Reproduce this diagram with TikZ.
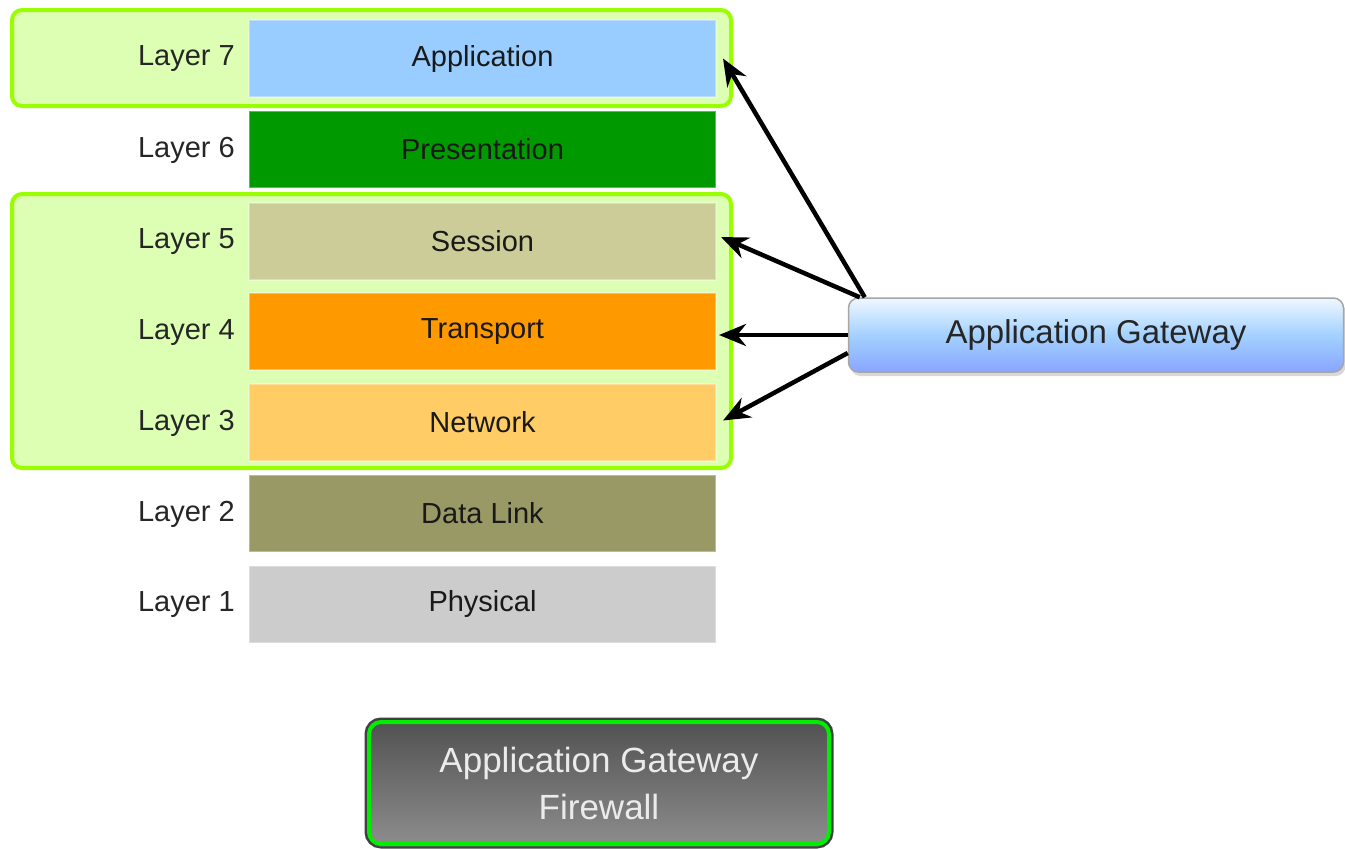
\documentclass[tikz,border=0pt]{standalone}
\usepackage{fontspec}
\setmainfont{Liberation Sans}
\usetikzlibrary{arrows.meta,shadows,calc}
\definecolor{grpline}{HTML}{99FF00}
\definecolor{grpfill}{HTML}{DDFFB3}
\definecolor{appc}{HTML}{99CCFF}
\definecolor{presc}{HTML}{009900}
\definecolor{sessc}{HTML}{CCCC99}
\definecolor{transc}{HTML}{FF9900}
\definecolor{netc}{HTML}{FFCC66}
\definecolor{dlc}{HTML}{999966}
\definecolor{physc}{HTML}{CCCCCC}
\definecolor{fwgreen}{HTML}{00EE00}
\begin{document}
\begin{tikzpicture}[x=1pt,y=-1pt,
  group/.style={draw=grpline, line width=4pt, fill=grpfill, rounded corners=10pt, minimum width=719pt, inner sep=0pt},
  layerbox/.style={minimum width=467pt, minimum height=77pt, inner sep=0pt, draw=white, draw opacity=0.35, line width=2pt, text=black!90, font=\fontsize{29}{31}\selectfont},
  layerlbl/.style={anchor=east, inner sep=0pt, text=black!85, font=\fontsize{29}{31}\selectfont},
  arr/.style={line width=4.5pt, -{Stealth[length=27pt, width=22pt]}, black},
  gwbox/.style={rounded corners=10pt, minimum width=495pt, minimum height=74pt, inner sep=0pt,
    top color=white!85!appc, bottom color=appc!70!blue!80!white, middle color=appc!90!white,
    draw=black!35, line width=1.5pt, font=\fontsize{33}{36}\selectfont, text=black!85,
    drop shadow={opacity=0.3, shadow xshift=2pt, shadow yshift=-4pt}},
  fwbox/.style={rounded corners=12pt, minimum width=460pt, minimum height=122pt, inner sep=0pt,
    top color=black!68, bottom color=black!45, draw=fwgreen, line width=4pt,
    preaction={draw=black!75, line width=9pt},
    align=center, text=white!92!black, font=\fontsize{35}{47}\selectfont,
    drop shadow={opacity=0.25, shadow xshift=0pt, shadow yshift=-3pt}}
]
\useasboundingbox (0,0) rectangle (1345,849);
\fill[white] (0,0) rectangle (1345,849);

% groups
\node[group, minimum height=96pt] (g1) at (371.5,58) {};
\node[group, minimum height=274pt] (g2) at (371.5,331) {};

% layers
\node[layerbox, fill=appc]   (app)  at (482.5,58.5) {Application};
\node[layerbox, fill=presc]  (pres) at (482.5,149)  {Presentation};
\node[layerbox, fill=sessc]  (sess) at (482.5,241)  {Session};
\node[layerbox, fill=transc] (tran) at (482.5,331.5){Transport};
\node[layerbox, fill=netc]   (net)  at (482.5,422.5){Network};
\node[layerbox, fill=dlc]    (dl)   at (482.5,513)  {Data Link};
\node[layerbox, fill=physc]  (phys) at (482.5,604)  {Physical};

\node[layerlbl] (l7) at (235,59)  {Layer 7};
\node[layerlbl] (l6) at (235,150)   {Layer 6};
\node[layerlbl] (l5) at (235,242)   {Layer 5};
\node[layerlbl] (l4) at (235,332.5) {Layer 4};
\node[layerlbl] (l3) at (235,423.5) {Layer 3};
\node[layerlbl] (l2) at (235,514)   {Layer 2};
\node[layerlbl] (l1) at (235,605)   {Layer 1};

% gateway
\node[gwbox] (gw) at (1096,335) {Application Gateway};

\coordinate (s1) at ($(gw.north west)+(17,0)$);
\coordinate (s2) at ($(gw.north west)+(12,0)$);
\coordinate (s4) at ($(gw.west)+(0,18)$);
\coordinate (t3) at ($(tran.east |- gw.west)+(2,0)$);
\draw[arr] (s1) -- ($(app.east)+(6,0)$);
\draw[arr] (s2) -- ($(sess.east)+(4,-4)$);
\draw[arr] (gw.west) -- (t3);
\draw[arr] (s4) -- ($(net.east)+(6,-2)$);

% firewall
\node[fwbox] (fw) at (599,783) {Application Gateway\\Firewall};
\end{tikzpicture}
\end{document}
